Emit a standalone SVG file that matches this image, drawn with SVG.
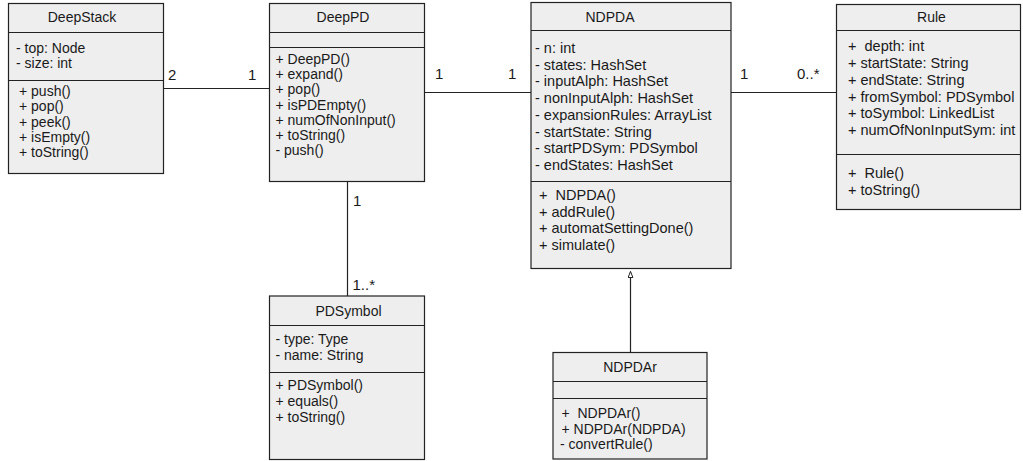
<svg xmlns="http://www.w3.org/2000/svg" width="1023" height="461" viewBox="0 0 1023 461">
  <style>
    .box { fill: #eeeeee; stroke: #222222; stroke-width: 1.2; }
    .sep { stroke: #222222; stroke-width: 1.2; fill: none; }
    .t { font-family: "Liberation Sans", Arial, sans-serif; font-size: 14px; fill: #1a1a1a; white-space: pre; }
    .big { font-size: 14.5px; }
    .title { text-anchor: middle; }
    .edge { stroke: #222222; stroke-width: 1.2; fill: none; }
    .mult { font-family: "Liberation Sans", Arial, sans-serif; font-size: 15px; fill: #1a1a1a; }
  </style>
  <defs>
    <!-- hollow triangle for generalization -->
    <marker id="inherit" viewBox="0 0 7 6" refX="6.5" refY="3" markerWidth="7" markerHeight="6" markerUnits="userSpaceOnUse" orient="auto">
      <path d="M6.5,3 L0.5,0.6 L0.5,5.4 Z" fill="#ffffff" stroke="#222222" stroke-width="1"/>
    </marker>
  </defs>

  <!-- associations and generalization -->
  <g id="connectors">
    <line class="edge" x1="163.5" y1="88.5" x2="269.5" y2="88.5"/>
    <text class="mult" x="168" y="80">2</text>
    <text class="mult" x="248" y="80">1</text>

    <line class="edge" x1="425" y1="92.5" x2="531" y2="92.5"/>
    <text class="mult" x="435" y="79">1</text>
    <text class="mult" x="508" y="79">1</text>

    <line class="edge" x1="731" y1="92.5" x2="836.5" y2="92.5"/>
    <text class="mult" x="740" y="78.5">1</text>
    <text class="mult" x="797" y="78.5">0..*</text>

    <line class="edge" x1="347.5" y1="182" x2="347.5" y2="296"/>
    <text class="mult" x="353" y="206">1</text>
    <text class="mult" x="352.5" y="290">1..*</text>

    <path class="edge" d="M630.5,352.5 L630.5,271.5" marker-end="url(#inherit)"/>
  </g>

  <g id="DeepStack">
    <rect class="box" x="8.5" y="3.5" width="155" height="170"/>
    <line class="sep" x1="8.5" y1="32.5" x2="163.5" y2="32.5"/>
    <line class="sep" x1="8.5" y1="80.5" x2="163.5" y2="80.5"/>
    <text class="t title" x="82" y="22">DeepStack</text>
    <text class="t" x="16" y="53">- top: Node</text>
    <text class="t" x="16" y="68">- size: int</text>
    <text class="t" x="19" y="96">+ push()</text>
    <text class="t" x="19" y="111.3">+ pop()</text>
    <text class="t" x="19" y="126.6">+ peek()</text>
    <text class="t" x="19" y="141.9">+ isEmpty()</text>
    <text class="t" x="19" y="157.2">+ toString()</text>
  </g>

  <g id="DeepPD">
    <rect class="box" x="269.5" y="3.5" width="155" height="178"/>
    <line class="sep" x1="269.5" y1="32.5" x2="424.5" y2="32.5"/>
    <line class="sep" x1="269.5" y1="47.5" x2="424.5" y2="47.5"/>
    <text class="t title" x="343" y="22">DeepPD</text>
    <text class="t" x="275.5" y="64">+ DeepPD()</text>
    <text class="t" x="275.5" y="79.2">+ expand()</text>
    <text class="t" x="275.5" y="94.4">+ pop()</text>
    <text class="t" x="275.5" y="109.6">+ isPDEmpty()</text>
    <text class="t" x="275.5" y="124.8">+ numOfNonInput()</text>
    <text class="t" x="275.5" y="140">+ toString()</text>
    <text class="t" x="275.5" y="155.2">- push()</text>
  </g>

  <g id="NDPDA">
    <rect class="box" x="531" y="2.5" width="200" height="266"/>
    <line class="sep" x1="531" y1="30.5" x2="731" y2="30.5"/>
    <line class="sep" x1="531" y1="181.5" x2="731" y2="181.5"/>
    <text class="t title" x="610" y="22">NDPDA</text>
    <text class="t big" x="535" y="53">- n: int</text>
    <text class="t big" x="535" y="69.7">- states: HashSet</text>
    <text class="t big" x="535" y="86.4">- inputAlph: HashSet</text>
    <text class="t big" x="535" y="103.1">- nonInputAlph: HashSet</text>
    <text class="t big" x="535" y="119.8">- expansionRules: ArrayList</text>
    <text class="t big" x="535" y="136.5">- startState: String</text>
    <text class="t big" x="535" y="153.2">- startPDSym: PDSymbol</text>
    <text class="t big" x="535" y="169.9">- endStates: HashSet</text>
    <text class="t big" x="539" y="200">+  NDPDA()</text>
    <text class="t big" x="539" y="216.7">+ addRule()</text>
    <text class="t big" x="539" y="233.4">+ automatSettingDone()</text>
    <text class="t big" x="539" y="250.1">+ simulate()</text>
  </g>

  <g id="Rule">
    <rect class="box" x="836.5" y="4.5" width="184" height="205"/>
    <line class="sep" x1="836.5" y1="30.5" x2="1020.5" y2="30.5"/>
    <line class="sep" x1="836.5" y1="154.5" x2="1020.5" y2="154.5"/>
    <text class="t title" x="931.5" y="22">Rule</text>
    <text class="t big" x="848" y="50.5">+  depth: int</text>
    <text class="t big" x="848" y="67.5">+ startState: String</text>
    <text class="t big" x="848" y="84.5">+ endState: String</text>
    <text class="t big" x="848" y="101.5">+ fromSymbol: PDSymbol</text>
    <text class="t big" x="848" y="118">+ toSymbol: LinkedList</text>
    <text class="t big" x="848" y="134.5">+ numOfNonInputSym: int</text>
    <text class="t big" x="848" y="178">+  Rule()</text>
    <text class="t big" x="848" y="195">+ toString()</text>
  </g>

  <g id="PDSymbol">
    <rect class="box" x="269.5" y="296" width="155" height="163.5"/>
    <line class="sep" x1="269.5" y1="325.5" x2="424.5" y2="325.5"/>
    <line class="sep" x1="269.5" y1="372.5" x2="424.5" y2="372.5"/>
    <text class="t title" x="348.5" y="315.5">PDSymbol</text>
    <text class="t" x="275.5" y="343.5">- type: Type</text>
    <text class="t" x="275.5" y="360">- name: String</text>
    <text class="t" x="275.5" y="390">+ PDSymbol()</text>
    <text class="t" x="275.5" y="406">+ equals()</text>
    <text class="t" x="275.5" y="422">+ toString()</text>
  </g>

  <g id="NDPDAr">
    <rect class="box" x="553" y="352.5" width="154" height="106.5"/>
    <line class="sep" x1="553" y1="381.5" x2="707" y2="381.5"/>
    <line class="sep" x1="553" y1="398.5" x2="707" y2="398.5"/>
    <text class="t title" x="630" y="371.5">NDPDAr</text>
    <text class="t" x="561.5" y="418.3">+  NDPDAr()</text>
    <text class="t" x="561.5" y="433.6">+ NDPDAr(NDPDA)</text>
    <text class="t" x="560" y="448.9">- convertRule()</text>
  </g>
</svg>
